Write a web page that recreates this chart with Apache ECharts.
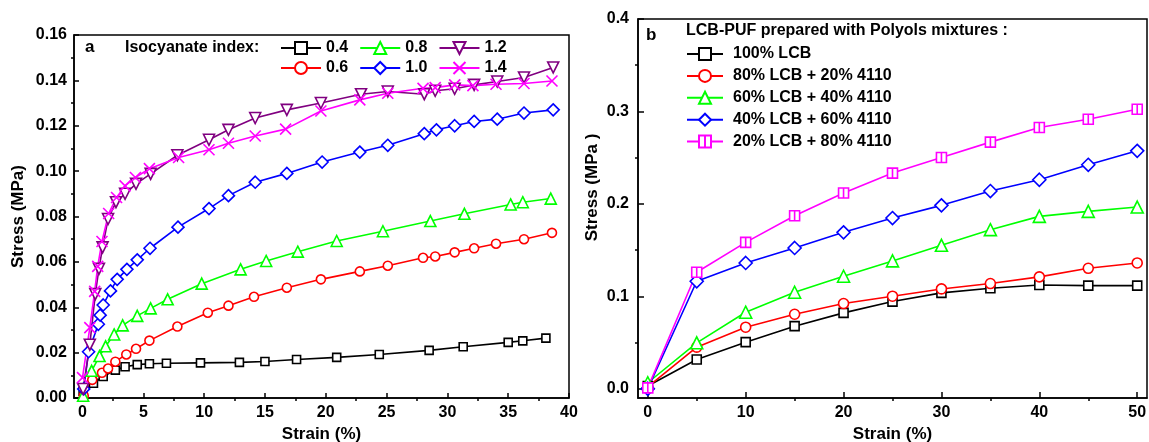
<!DOCTYPE html>
<html>
<head>
<meta charset="utf-8">
<script src="https://cdn.jsdelivr.net/npm/echarts@6/dist/echarts.min.js"></script>
<style>
  html, body { margin: 0; padding: 0; background: #fff; }
  #main { width: 1149px; height: 442px; }
</style>
</head>
<body>
<div id="main"></div>
<script>
// panel a : stress-strain by isocyanate index  [strain %, stress MPa]
var idx04 = [[0.05,0.003],[0.9,0.0065],[1.7,0.0095],[2.7,0.0123],[3.5,0.0138],[4.5,0.0147],[5.5,0.0151],[6.9,0.0153],[9.7,0.0155],[12.9,0.0157],[15.0,0.0161],[17.6,0.017],[20.9,0.0179],[24.4,0.0192],[28.5,0.021],[31.3,0.0226],[35.0,0.0245],[36.2,0.0252],[38.1,0.0264]];
var idx06 = [[0.1,0.001],[0.8,0.008],[1.6,0.0111],[2.1,0.013],[2.7,0.016],[3.6,0.0192],[4.4,0.0217],[5.5,0.0253],[7.8,0.0315],[10.3,0.0376],[12.0,0.0407],[14.1,0.0446],[16.8,0.0486],[19.6,0.0523],[22.8,0.0558],[25.1,0.0583],[28.0,0.0618],[29.0,0.0624],[30.6,0.0642],[32.2,0.066],[34.0,0.068],[36.3,0.070],[38.6,0.0728]];
var idx08 = [[0.05,0.001],[0.75,0.012],[1.4,0.0185],[1.9,0.0228],[2.6,0.028],[3.3,0.032],[4.5,0.0362],[5.6,0.0395],[7.0,0.0435],[9.8,0.0504],[13.0,0.0567],[15.1,0.0604],[17.7,0.0645],[20.9,0.0692],[24.7,0.0735],[28.6,0.078],[31.4,0.0812],[35.2,0.0853],[36.2,0.0863],[38.5,0.0879]];
var idx10 = [[0.1,0.004],[0.5,0.0204],[1.3,0.0325],[1.45,0.0365],[1.7,0.041],[2.3,0.0472],[2.85,0.0523],[3.65,0.0567],[4.5,0.0609],[5.55,0.066],[7.85,0.0753],[10.4,0.0835],[12.0,0.0892],[14.2,0.0951],[16.8,0.099],[19.7,0.104],[22.8,0.1084],[25.1,0.1114],[28.1,0.1165],[29.1,0.1182],[30.6,0.120],[32.2,0.1219],[34.1,0.1229],[36.3,0.1256],[38.7,0.127]];
var idx12 = [[0.05,0.004],[0.6,0.0235],[1.05,0.0458],[1.35,0.0569],[1.65,0.0664],[2.1,0.0789],[2.75,0.0863],[3.5,0.09],[4.4,0.0944],[5.6,0.0988],[7.8,0.107],[10.4,0.1138],[12.0,0.1182],[14.2,0.1234],[16.8,0.127],[19.6,0.13],[22.9,0.1339],[25.1,0.1351],[28.1,0.1339],[29.0,0.1354],[30.6,0.1363],[32.2,0.138],[34.1,0.1395],[36.3,0.1413],[38.7,0.1457]];
var idx14 = [[0.0,0.009],[0.6,0.031],[1.0,0.047],[1.25,0.058],[1.6,0.069],[2.15,0.0813],[2.8,0.0884],[3.5,0.0935],[4.35,0.0972],[5.5,0.1011],[7.9,0.106],[10.4,0.1094],[12.0,0.1123],[14.2,0.1155],[16.7,0.1185],[19.6,0.1265],[22.8,0.1314],[25.1,0.1343],[28.0,0.1365],[29.0,0.1368],[30.6,0.138],[32.1,0.1377],[34.0,0.1383],[36.3,0.1386],[38.6,0.1397]];

// panel b : polyol mixtures
var strainB = [0, 5, 10, 15, 20, 25, 30, 35, 40, 45, 50];
var lcb100 = [0.003, 0.0317, 0.0504, 0.0677, 0.0821, 0.0943, 0.1037, 0.1087, 0.1123, 0.1116, 0.1116];
var lcb80 = [0.002, 0.045, 0.0666, 0.0806, 0.0922, 0.1001, 0.108, 0.1138, 0.121, 0.1303, 0.1361];
var lcb60 = [0.0065, 0.0497, 0.0828, 0.1044, 0.1217, 0.1383, 0.1552, 0.1721, 0.1865, 0.1919, 0.1966];
var lcb40 = [0.0, 0.1163, 0.1361, 0.1523, 0.1692, 0.1847, 0.1984, 0.2139, 0.2261, 0.2423, 0.2574];
var lcb20 = [0.001, 0.126, 0.1584, 0.1872, 0.2117, 0.2333, 0.2502, 0.2668, 0.2826, 0.2916, 0.3024];

// tick labels
var xTicksA = [0, 5, 10, 15, 20, 25, 30, 35, 40];
var xMinorA = [2.5, 7.5, 12.5, 17.5, 22.5, 27.5, 32.5, 37.5];
var yTicksA = [0, 0.02, 0.04, 0.06, 0.08, 0.10, 0.12, 0.14, 0.16];
var yMinorA = [0.01, 0.03, 0.05, 0.07, 0.09, 0.11, 0.13, 0.15];
var xTicksB = [0, 10, 20, 30, 40, 50];
var xMinorB = [5, 15, 25, 35, 45];
var yTicksB = [0, 0.1, 0.2, 0.3, 0.4];
var yMinorB = [0.05, 0.15, 0.25, 0.35];

var FONT = 'Liberation Sans';
var crossPath = 'path://M0,0L10,10M10,0L0,10';
var sqLinePath = 'path://M0,0L10,0L10,10L0,10Z M5,0L5,10';

function zipB(ys) {
  return strainB.map(function (x, i) { return [x, ys[i]]; });
}

function mk(name, data, color, symbol, size, axis, extra) {
  var s = {
    name: name,
    type: 'line',
    data: data,
    xAxisIndex: axis,
    yAxisIndex: axis,
    symbol: symbol,
    symbolSize: size,
    lineStyle: { color: color, width: 1.6 },
    itemStyle: { color: '#fff', borderColor: color, borderWidth: 1.6 },
    emphasis: { disabled: true },
    z: 3
  };
  if (extra) {
    for (var k in extra) s[k] = extra[k];
  }
  return s;
}

// main axis: line, labels and major ticks
function mainAxis(grid, pos, min, max, ticks, digits, name, gap, pad, margin, tlen) {
  return {
    type: 'value', gridIndex: grid, position: pos, min: min, max: max,
    name: name, nameLocation: 'middle', nameGap: gap,
    nameTextStyle: { fontFamily: FONT, fontWeight: 'bold', fontSize: 17, color: '#000', padding: pad },
    axisLine: { show: true, onZero: false, lineStyle: { color: '#000', width: 1.5 } },
    axisTick: { show: true, inside: true, length: tlen, customValues: ticks, lineStyle: { color: '#000', width: 1.5 } },
    axisLabel: {
      customValues: ticks, margin: margin,
      fontFamily: FONT, fontWeight: 'bold', fontSize: 16, color: '#000',
      formatter: function (v) { return v.toFixed(digits); }
    },
    splitLine: { show: false }
  };
}

// minor tick axis, pinned to the border through a helper axis whose 0 sits on it
function minorAxis(grid, min, max, ticks, zeroIdx) {
  var line = { show: false, onZero: true };
  if (zeroIdx != null) line.onZeroAxisIndex = zeroIdx;
  return {
    type: 'value', gridIndex: grid, min: min, max: max,
    axisLine: line,
    axisTick: { show: true, inside: true, length: 3, customValues: ticks, lineStyle: { color: '#000', width: 1.5 } },
    axisLabel: { show: false },
    splitLine: { show: false }
  };
}

function helperAxis(grid, max) {
  return { type: 'value', gridIndex: grid, min: 0, max: max, show: false };
}

var legendText = { fontFamily: FONT, fontWeight: 'bold', fontSize: 16, color: '#000' };

var option = {
  backgroundColor: '#fff',
  animation: false,
  title: [
    { text: 'a', left: 85, top: 39, padding: 0, textStyle: { fontFamily: FONT, fontWeight: 'bold', fontSize: 17, color: '#000' } },
    { text: 'Isocyanate index:', left: 125, top: 40, padding: 0, textStyle: legendText },
    { text: 'b', left: 646, top: 27, padding: 0, textStyle: { fontFamily: FONT, fontWeight: 'bold', fontSize: 17, color: '#000' } },
    { text: 'LCB-PUF prepared with Polyols mixtures :', left: 686, top: 23, padding: 0, textStyle: legendText }
  ],
  legend: [
    {
      data: ['0.4', '0.8', '1.2'], left: 280, top: 40, orient: 'horizontal',
      itemWidth: 40, itemHeight: 15, itemGap: 11, padding: 0, textStyle: legendText
    },
    {
      data: ['0.6', '1.0', '1.4'], left: 280, top: 60, orient: 'horizontal',
      itemWidth: 40, itemHeight: 15, itemGap: 11, padding: 0, textStyle: legendText
    },
    {
      data: ['100% LCB', '80% LCB + 20% 4110', '60% LCB + 40% 4110', '40% LCB + 60% 4110', '20% LCB + 80% 4110'],
      left: 686, top: 46, orient: 'vertical',
      itemWidth: 36, itemHeight: 15, itemGap: 5.9, padding: 0,
      textStyle: { fontFamily: FONT, fontWeight: 'bold', fontSize: 16, color: '#000', padding: [0, 0, 0, 5] }
    }
  ],
  grid: [
    { left: 74, top: 35, width: 495, height: 363, show: true, borderColor: '#000', borderWidth: 1.5, outerBoundsMode: 'none', containLabel: false },
    { left: 638, top: 19, width: 509, height: 379, show: true, borderColor: '#000', borderWidth: 1.5, outerBoundsMode: 'none', containLabel: false }
  ],
  xAxis: [
    mainAxis(0, 'bottom', -0.7, 40, xTicksA, 0, 'Strain (%)', 25, 0, 7, 5),   // 0
    minorAxis(0, -0.7, 40, xMinorA, 0),                                       // 1
    mainAxis(1, 'bottom', -1, 51, xTicksB, 0, 'Strain (%)', 25, 0, 7, 6),     // 2
    minorAxis(1, -1, 51, xMinorB, 4),                                         // 3
    helperAxis(0, 40.7),                                                      // 4
    helperAxis(1, 52)                                                         // 5
  ],
  yAxis: [
    mainAxis(0, 'left', 0, 0.16, yTicksA, 2, 'Stress (MPa)', 47, 0, 7, 5),                  // 0
    minorAxis(0, 0, 0.16, yMinorA, 4),                                                      // 1
    mainAxis(1, 'left', -0.01, 0.4, yTicksB, 1, 'Stress (MPa )', 37, [0, 0, 0, 42], 9, 6),  // 2
    minorAxis(1, -0.01, 0.4, yMinorB, 5),                                                   // 3
    helperAxis(1, 0.41)                                                                     // 4
  ],
  series: [
    mk('0.4', idx04, '#000000', 'rect', 8, 0),
    mk('0.6', idx06, '#ff0000', 'circle', 9, 0),
    mk('0.8', idx08, '#00ff00', 'triangle', 11, 0),
    mk('1.0', idx10, '#0000ff', 'diamond', 12, 0),
    mk('1.2', idx12, '#800080', 'triangle', 11, 0, { symbolRotate: 180 }),
    mk('1.4', idx14, '#ff00ff', crossPath, 11, 0),
    mk('100% LCB', zipB(lcb100), '#000000', 'rect', 9, 2),
    mk('80% LCB + 20% 4110', zipB(lcb80), '#ff0000', 'circle', 10, 2),
    mk('60% LCB + 40% 4110', zipB(lcb60), '#00ff00', 'triangle', 12, 2),
    mk('40% LCB + 60% 4110', zipB(lcb40), '#0000ff', 'diamond', 13, 2),
    mk('20% LCB + 80% 4110', zipB(lcb20), '#ff00ff', sqLinePath, 10, 2)
  ]
};

var chart = echarts.init(document.getElementById('main'), null, { renderer: 'canvas' });
chart.setOption(option);
</script>
</body>
</html>
